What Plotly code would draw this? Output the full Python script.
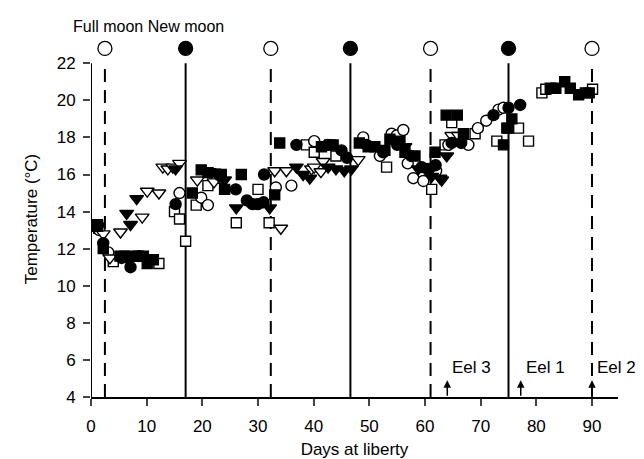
import plotly.graph_objects as go

# ---------------- data ----------------
fc_x = [2.2, 5.5, 6.6, 7.1, 8.6, 15.2, 23.0, 26.0, 28.0, 29.0, 30.0, 31.0, 31.1, 36.9, 42.5, 45.0, 46.0, 49.5, 52.5, 55.0, 57.5, 59.4, 60.5, 61.9, 64.8, 66.5, 72.3, 75.0, 77.1]
fc_y = [12.3, 11.5, 11.5, 11.0, 11.6, 14.4, 16.0, 15.2, 14.6, 14.4, 14.4, 14.5, 16.0, 17.6, 17.6, 17.3, 16.9, 17.6, 17.2, 17.6, 17.0, 16.4, 16.3, 16.5, 17.7, 17.7, 19.2, 19.6, 19.75]

oc_x = [1.5, 3.1, 15.9, 19.8, 21.0, 33.2, 36.0, 40.1, 48.9, 51.9, 54.0, 54.9, 56.1, 56.9, 57.9, 59.7, 62.0, 64.2, 67.8, 69.5, 71.0, 73.2, 74.1]
oc_y = [13.0, 11.8, 15.0, 14.75, 14.35, 15.3, 15.4, 17.8, 18.0, 17.0, 18.2, 18.1, 18.4, 16.6, 15.8, 15.65, 16.2, 17.6, 17.6, 18.5, 18.9, 19.5, 19.6]

fs_x = [1.2, 2.2, 5.2, 6.0, 7.2, 8.5, 9.4, 10.1, 11.2, 18.2, 19.8, 21.0, 23.4, 24.0, 27.0, 33.0, 33.9, 41.4, 42.9, 43.5, 48.2, 49.8, 51.0, 52.8, 53.7, 55.5, 56.4, 58.2, 61.8, 63.8, 65.8, 66.9, 74.1, 74.7, 75.0, 75.6, 82.5, 83.5, 85.1, 86.1, 87.6, 88.8, 89.5]
fs_y = [13.2, 12.0, 11.6, 11.6, 11.6, 11.6, 11.6, 11.2, 11.4, 15.0, 16.25, 16.1, 16.0, 15.2, 16.0, 14.9, 17.7, 17.5, 17.6, 17.6, 17.7, 17.5, 17.5, 17.3, 17.9, 17.8, 17.2, 17.0, 17.2, 19.2, 19.2, 18.2, 17.6, 18.5, 18.5, 19.0, 20.65, 20.65, 21.0, 20.65, 20.3, 20.4, 20.4]

os_x = [1.4, 4.0, 12.2, 15.0, 15.9, 17.0, 18.9, 21.0, 22.5, 26.1, 30.0, 32.0, 38.7, 40.1, 44.0, 53.1, 61.2, 63.6, 64.8, 69.0, 72.9, 76.8, 78.6, 81.0, 81.7, 90.1]
os_y = [13.1, 11.3, 11.2, 14.0, 13.6, 12.4, 14.35, 15.4, 15.8, 13.4, 15.2, 13.4, 17.6, 17.2, 17.0, 16.4, 15.2, 17.6, 18.8, 18.2, 17.8, 18.5, 17.8, 20.4, 20.6, 20.6]

ft_x = [0.9, 6.4, 7.1, 8.2, 15.2, 20.7, 21.3, 23.0, 24.0, 26.1, 32.1, 36.9, 38.1, 39.3, 42.6, 44.0, 45.5, 46.8, 56.4, 58.8, 60.6, 61.2, 62.7, 63.0, 63.9]
ft_y = [13.4, 13.9, 13.3, 14.7, 16.3, 16.2, 16.15, 15.9, 15.7, 14.2, 14.2, 16.4, 16.0, 15.8, 16.4, 16.3, 16.2, 16.3, 17.5, 16.3, 16.1, 15.9, 15.8, 15.7, 17.0]

ot_x = [2.2, 3.4, 5.3, 9.2, 10.1, 12.2, 12.9, 13.8, 14.7, 15.9, 19.1, 22.1, 33.0, 34.1, 35.1, 39.6, 40.1, 41.3, 41.7, 48.0, 64.8, 66.0]
ot_y = [12.8, 11.5, 12.9, 13.7, 15.1, 15.0, 16.4, 16.3, 16.4, 16.6, 15.7, 15.6, 16.2, 13.1, 16.2, 16.3, 16.4, 16.15, 16.7, 16.8, 18.1, 18.1]

full_moon_days = [2.5, 32.3, 61.0, 90.0]
new_moon_days = [17.0, 46.6, 75.0]
moon_marker_temp = 22.8

eel_labels = ["Eel 3", "Eel 1", "Eel 2"]
eel_days = [64.0, 77.2, 90.0]

x_ticks = [0, 10, 20, 30, 40, 50, 60, 70, 80, 90]
y_ticks = [4, 6, 8, 10, 12, 14, 16, 18, 20, 22]

FONT = "Liberation Sans, Arial, sans-serif"

fig = go.Figure()

def add_series(xs, ys, symbol, filled, size=10):
    fig.add_trace(go.Scatter(
        x=xs, y=ys, mode="markers", showlegend=False, hoverinfo="skip",
        marker=dict(symbol=symbol, size=size,
                    color="black" if filled else "white",
                    line=dict(color="black", width=1.4)),
    ))

add_series(os_x, os_y, "square", False, 10)
add_series(oc_x, oc_y, "circle", False, 11)
add_series(ot_x, ot_y, "triangle-down", False, 12)
add_series(fs_x, fs_y, "square", True, 10)
add_series(fc_x, fc_y, "circle", True, 11)
add_series(ft_x, ft_y, "triangle-down", True, 12)

# moon markers at top
fig.add_trace(go.Scatter(
    x=full_moon_days, y=[moon_marker_temp] * len(full_moon_days), mode="markers",
    showlegend=False, hoverinfo="skip", cliponaxis=False,
    marker=dict(symbol="circle", size=14, color="white", line=dict(color="black", width=1.3))))
fig.add_trace(go.Scatter(
    x=new_moon_days, y=[moon_marker_temp] * len(new_moon_days), mode="markers",
    showlegend=False, hoverinfo="skip", cliponaxis=False,
    marker=dict(symbol="circle", size=14, color="black", line=dict(color="black", width=1.3))))

shapes = []
for d in full_moon_days:
    shapes.append(dict(type="line", xref="x", yref="y", x0=d, x1=d, y0=4, y1=22,
                       line=dict(color="black", width=2, dash="13px,8px"), layer="below"))
for d in new_moon_days:
    shapes.append(dict(type="line", xref="x", yref="y", x0=d, x1=d, y0=4, y1=22,
                       line=dict(color="black", width=2), layer="below"))
# y axis line only from 4 to 22
shapes.append(dict(type="line", xref="x", yref="y", x0=0, x1=0, y0=4, y1=22,
                   line=dict(color="black", width=2)))

annotations = []
for lab, d in zip(eel_labels, eel_days):
    annotations.append(dict(x=d, y=4.9, xref="x", yref="y", text="", showarrow=True,
                            ax=0, ay=17, arrowhead=2, arrowsize=1, arrowwidth=1.5,
                            arrowcolor="black"))
    annotations.append(dict(x=d + 0.5, y=5.6, xref="x", yref="y", text=lab, showarrow=False,
                            xanchor="left", yanchor="middle",
                            font=dict(family=FONT, size=17, color="black")))
annotations.append(dict(x=-0.038, y=1.041, xref="paper", yref="paper", text="Full moon New moon",
                        showarrow=False, xanchor="left", yanchor="middle",
                        font=dict(family=FONT, size=16, color="black")))

fig.update_layout(
    width=644, height=459,
    margin=dict(l=83, r=34, t=33, b=70),
    paper_bgcolor="white", plot_bgcolor="white",
    font=dict(family=FONT, size=17, color="black"),
    shapes=shapes, annotations=annotations,
    xaxis=dict(range=[0, 94.67], tickvals=x_ticks, ticks="outside", ticklen=7, tickwidth=2,
               ticklabelstandoff=6,
               showline=True, linewidth=2, linecolor="black", showgrid=False, zeroline=False,
               title=dict(text="Days at liberty", font=dict(size=17), standoff=8),
               tickfont=dict(size=17)),
    yaxis=dict(range=[4, 23.2], tickvals=y_ticks, ticks="outside", ticklen=7, tickwidth=2,
               ticklabelstandoff=4,
               showline=False, showgrid=False, zeroline=False,
               title=dict(text="Temperature (°C)", font=dict(size=17), standoff=14),
               tickfont=dict(size=17)),
)

fig.write_html("out.html")
